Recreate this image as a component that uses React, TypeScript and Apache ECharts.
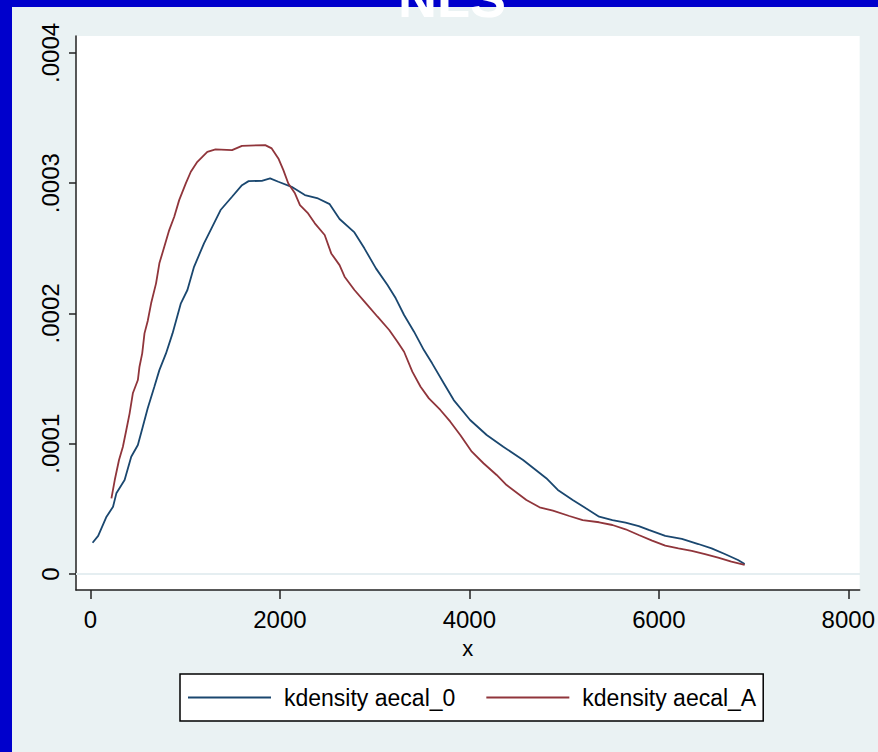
import React, { useEffect, useRef } from "react";
import * as echarts from "echarts";

// kdensity aecal_0 (blue)
const blueX = [23, 82, 170, 239, 274, 361, 431, 501, 553, 605, 675, 728, 798, 867, 955, 1024, 1094, 1199, 1286, 1374, 1495, 1600, 1670, 1809, 1897, 1984, 2124, 2264, 2403, 2526, 2630, 2787, 2892, 3014, 3136, 3223, 3311, 3416, 3520, 3607, 3730, 3835, 4008, 4183, 4358, 4567, 4812, 4934, 5091, 5230, 5370, 5510, 5649, 5788, 5893, 6068, 6243, 6417, 6557, 6696, 6836, 6906];
const blueY = [0.240, 0.292, 0.440, 0.516, 0.619, 0.721, 0.900, 0.990, 1.130, 1.272, 1.437, 1.565, 1.693, 1.847, 2.078, 2.180, 2.358, 2.538, 2.665, 2.794, 2.896, 2.985, 3.016, 3.018, 3.037, 3.011, 2.972, 2.909, 2.883, 2.839, 2.725, 2.622, 2.500, 2.346, 2.218, 2.116, 1.988, 1.860, 1.719, 1.617, 1.464, 1.335, 1.182, 1.067, 0.977, 0.875, 0.735, 0.645, 0.568, 0.504, 0.440, 0.414, 0.394, 0.368, 0.338, 0.292, 0.269, 0.230, 0.197, 0.153, 0.107, 0.077];

// kdensity aecal_A (red)
const redX = [222, 257, 302, 343, 379, 414, 448, 501, 518, 547, 571, 605, 641, 693, 728, 780, 832, 885, 937, 1007, 1060, 1129, 1234, 1321, 1495, 1600, 1845, 1914, 1984, 2037, 2089, 2159, 2212, 2298, 2369, 2473, 2542, 2630, 2683, 2787, 2909, 3031, 3154, 3241, 3311, 3398, 3485, 3573, 3694, 3799, 3904, 4026, 4149, 4288, 4393, 4602, 4741, 4882, 5055, 5196, 5370, 5510, 5649, 5788, 5929, 6068, 6207, 6348, 6487, 6626, 6766, 6906];
const redY = [0.581, 0.721, 0.875, 0.977, 1.105, 1.233, 1.387, 1.489, 1.591, 1.694, 1.847, 1.942, 2.078, 2.231, 2.385, 2.512, 2.640, 2.742, 2.870, 2.998, 3.088, 3.164, 3.241, 3.259, 3.254, 3.287, 3.292, 3.267, 3.190, 3.100, 2.998, 2.922, 2.832, 2.768, 2.692, 2.602, 2.461, 2.371, 2.282, 2.180, 2.078, 1.975, 1.873, 1.783, 1.706, 1.553, 1.437, 1.348, 1.259, 1.169, 1.067, 0.939, 0.850, 0.760, 0.683, 0.568, 0.512, 0.486, 0.445, 0.414, 0.397, 0.376, 0.343, 0.299, 0.256, 0.217, 0.197, 0.177, 0.153, 0.125, 0.094, 0.069];

const yScale = 0.0001; // the y values above are in units of 1e-4
const xTicks = [0, 2000, 4000, 6000, 8000];
const yTicks = [0, 0.0001, 0.0002, 0.0003, 0.0004];
const yGrid = [0, 0.0001, 0.0002, 0.0003];
const seriesNames = ["kdensity aecal_0", "kdensity aecal_A"];
const titleText = "NLS";
const xName = "x";

const FONT = '"Liberation Sans", Arial, sans-serif';

export default function App() {
  const ref = useRef<HTMLDivElement>(null);
  useEffect(() => {
    if (!ref.current) return;
    const chart = echarts.init(ref.current, null, { renderer: "svg" });
    const blueData = blueX.map((x, i) => [x, blueY[i] * yScale]);
    const redData = redX.map((x, i) => [x, redY[i] * yScale]);
    chart.setOption({
      animation: false,
      backgroundColor: "#0000cc",
      textStyle: { fontFamily: FONT },
      graphic: [
        {
          type: "rect",
          z: -1,
          silent: true,
          shape: { x: 12, y: 7, width: 866, height: 745 },
          style: { fill: "#eaf2f3" },
        },
        {
          type: "text",
          z: 10,
          x: 452,
          y: 25,
          style: {
            text: titleText,
            fill: "#ffffff",
            font: `bold 54px ${FONT}`,
            textAlign: "center",
            textVerticalAlign: "bottom",
          },
        },
      ],
      grid: {
        left: 76,
        right: 12,
        top: 36,
        bottom: 162,
        show: true,
        backgroundColor: "#ffffff",
        borderWidth: 0,
      },
      xAxis: {
        type: "value",
        min: -152,
        max: 8120,
        name: xName,
        nameLocation: "middle",
        nameGap: 47,
        nameTextStyle: { fontSize: 22, color: "#000", fontFamily: FONT },
        axisLine: { show: true, onZero: false, lineStyle: { color: "#222", width: 1.5 } },
        axisTick: { show: true, length: 9, customValues: xTicks, lineStyle: { color: "#222", width: 1.5 } },
        axisLabel: {
          customValues: xTicks,
          fontSize: 24,
          color: "#000",
          margin: 17,
          fontFamily: FONT,
          formatter: (v: number) => String(v),
        },
        splitLine: { show: false },
      },
      yAxis: {
        type: "value",
        min: -0.0000123,
        max: 0.000413,
        axisLine: { show: true, onZero: false, lineStyle: { color: "#222", width: 1.5 } },
        axisTick: { show: true, length: 7, customValues: yTicks, lineStyle: { color: "#222", width: 1.5 } },
        axisLabel: {
          customValues: yTicks,
          rotate: 90,
          fontSize: 24,
          color: "#000",
          margin: 14,
          fontFamily: FONT,
          formatter: (v: number) => (v === 0 ? "0" : v.toFixed(4).replace(/^0/, "")),
        },
        splitLine: { show: false },
      },
      legend: {
        left: 180,
        top: 674,
        orient: "horizontal",
        data: seriesNames,
        icon: "rect",
        itemWidth: 83,
        itemHeight: 2,
        itemGap: 31,
        padding: [10, 7, 10, 8],
        borderColor: "#000",
        borderWidth: 1.5,
        backgroundColor: "#ffffff",
        textStyle: { fontSize: 23, color: "#000", fontFamily: FONT, padding: [0, 0, 0, 8], lineHeight: 27 },
      },
      series: [
        {
          name: seriesNames[0],
          type: "line",
          data: blueData,
          showSymbol: false,
          symbol: "none",
          color: "#1a476f",
          lineStyle: { color: "#1a476f", width: 1.8 },
          z: 3,
          markLine: {
            silent: true,
            symbol: "none",
            label: { show: false },
            lineStyle: { color: "#e4eef0", width: 1.5, type: "solid" },
            data: yGrid.map((v) => ({ yAxis: v })),
          },
        },
        {
          name: seriesNames[1],
          type: "line",
          data: redData,
          showSymbol: false,
          symbol: "none",
          color: "#90353b",
          lineStyle: { color: "#90353b", width: 1.8 },
          z: 4,
        },
      ],
    });
    return () => chart.dispose();
  }, []);
  return (
    <div
      ref={ref}
      style={{ position: "absolute", left: 0, top: 0, width: 878, height: 752 }}
    />
  );
}
